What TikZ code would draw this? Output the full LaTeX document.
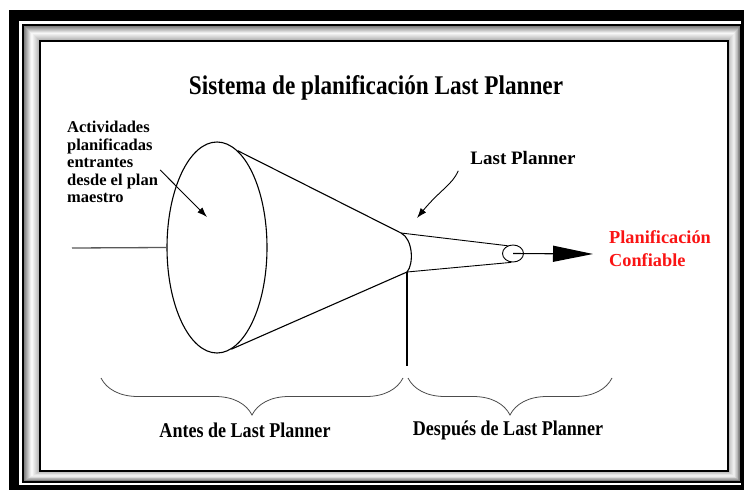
\documentclass[tikz,border=0pt]{standalone}
\usepackage{fontspec}
\setmainfont{Liberation Serif}
\newfontfamily\narrowfont[FakeStretch=0.86]{Liberation Serif}
\usetikzlibrary{arrows.meta,positioning,calc,shapes.geometric,decorations.pathreplacing}
\definecolor{planred}{RGB}{250,20,20}

\begin{document}
\begin{tikzpicture}[x=1pt,y=-1pt,
  every node/.style={inner sep=0pt,font=\bfseries},
  cone/.style={line width=1.1pt},
  lbl/.style={align=left,font=\fontsize{16.5}{17.5}\selectfont\bfseries},
  botlbl/.style={font=\narrowfont\fontsize{21}{24}\selectfont\bfseries},
  brc/.style={decorate,decoration={brace,amplitude=37pt,mirror},gray!60!black,line width=0.8pt},
  arr/.style={-{Latex[length=10pt,width=7pt]},line width=0.9pt}
]
\useasboundingbox (0,0) rectangle (744,492);
\fill[white] (0,0) rectangle (744,492);
\fill[black] (9,10) rectangle (744,490);
\fill[white] (19,21) rectangle (741,485);
\draw[line width=1.5pt] (23,25) rectangle (741,482);
\foreach \i in {0,...,15}{
  \pgfmathsetmacro\tone{ifthenelse(\i<7,50-7*\i,3+4*(\i-7))}
  \fill[black!\tone] ({24+\i*16/15},{26+\i}) rectangle ({740-\i*12/15},{481-\i*10/15});
}
\draw[line width=1.5pt,fill=white] (40,41) rectangle (728,471);

\node[font=\narrowfont\fontsize{27}{30}\selectfont\bfseries] (title) at (376,88) {Sistema de planificación Last Planner};

\node[ellipse,draw,cone,minimum width=100pt,minimum height=211pt] (big) at (217,247.5) {};
\node[ellipse,draw,line width=0.9pt,minimum width=21pt,minimum height=17pt] (tip) at (513,253.5) {};
\coordinate (neckt) at (401,233);
\coordinate (neckb) at (407,272);
\coordinate (in) at (72,248);
\coordinate (vbot) at (407,366);
\coordinate (out) at (593,254);
\draw[cone] (big.78) -- (neckt) .. controls (413,239) and (414,264) .. (neckb) -- (big.-82);
\draw[line width=0.9pt] (neckt) -- (tip.125) (neckb) -- (tip.-100);
\draw[gray!70!black,line width=1.3pt] (in) -- (big.west);
\draw[line width=1.5pt] (neckb) -- (vbot);
\draw[line width=1.1pt,-{Triangle[length=40pt,width=16pt]}] (tip.center) -- (out);

\node[lbl,anchor=north west] (act) at (67,121) {Actividades\\planificadas\\entrantes\\desde el plan\\maestro};
\coordinate (acttip) at (207,217);
\draw[arr] ([xshift=2pt,yshift=-8pt]act.east) -- (acttip);

\node[font=\fontsize{19}{20}\selectfont\bfseries] (lastp) at (523,158) {Last Planner};
\coordinate (lptip) at (417,218);
\draw[arr] ([xshift=-12pt,yshift=-6pt]lastp.south west) .. controls (452,185) and (440,190) .. (lptip);

\node[anchor=west,align=left,text=planred,font=\fontsize{18.3}{23}\selectfont\bfseries] (planif) at (609,249) {Planificación\\Confiable};

\coordinate (b1) at (101,378);
\coordinate (b2) at (403,378);
\coordinate (b3) at (408,378);
\coordinate (b4) at (612,378);
\draw[brc] (b1) -- (b2);
\draw[brc] (b3) -- (b4);
\node[botlbl] (antes) at (245,430) {Antes de Last Planner};
\node[botlbl] (despues) at (508,430) {Después de Last Planner};
\end{tikzpicture}
\end{document}
